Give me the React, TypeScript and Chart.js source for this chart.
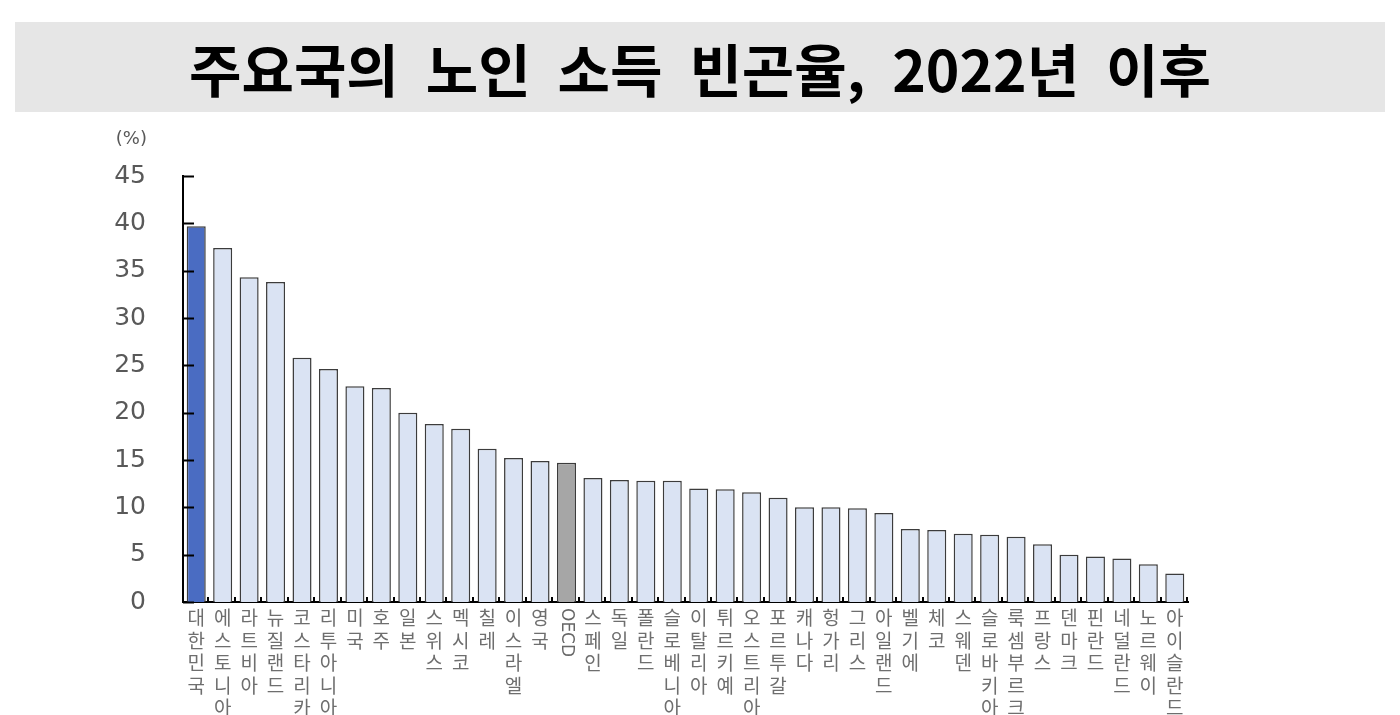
import { useEffect, useRef } from 'react';
import { Chart, registerables, Plugin } from 'chart.js';

Chart.register(...registerables);

const TITLE = '주요국의 노인 소득 빈곤율, 2022년 이후';
const UNIT = '(%)';

const countries = [
  '대한민국', '에스토니아', '라트비아', '뉴질랜드', '코스타리카', '리투아니아', '미국', '호주',
  '일본', '스위스', '멕시코', '칠레', '이스라엘', '영국', 'OECD', '스페인', '독일', '폴란드',
  '슬로베니아', '이탈리아', '튀르키예', '오스트리아', '포르투갈', '캐나다', '헝가리', '그리스',
  '아일랜드', '벨기에', '체코', '스웨덴', '슬로바키아', '룩셈부르크', '프랑스', '덴마크',
  '핀란드', '네덜란드', '노르웨이', '아이슬란드',
];

const povertyRate = [
  39.7, 37.4, 34.3, 33.8, 25.8, 24.6, 22.8, 22.6,
  20.0, 18.8, 18.3, 16.2, 15.2, 14.9, 14.7, 13.1, 12.9, 12.8,
  12.8, 12.0, 11.9, 11.6, 11.0, 10.0, 10.0, 9.9,
  9.4, 7.7, 7.6, 7.2, 7.1, 6.9, 6.1, 5.0,
  4.8, 4.6, 4.0, 3.0,
];

const yTicks = [0, 5, 10, 15, 20, 25, 30, 35, 40, 45];

const HIGHLIGHT = '대한민국';
const AVERAGE = 'OECD';

// inward tick marks, unit label and the rotated OECD label
const decorations: Plugin<'bar'> = {
  id: 'decorations',
  afterDatasetsDraw(chart) {
    const { ctx, chartArea } = chart;
    const x = chart.scales.x;
    const y = chart.scales.y;
    ctx.save();
    ctx.strokeStyle = '#000';
    ctx.lineWidth = 2;
    ctx.beginPath();
    yTicks.forEach((v) => {
      const py = Math.round(y.getPixelForValue(v)) + 0.5;
      ctx.moveTo(chartArea.left, py);
      ctx.lineTo(chartArea.left + 11, py);
    });
    const step = (chartArea.right - chartArea.left) / countries.length;
    for (let i = 1; i <= countries.length; i++) {
      const px = Math.round(chartArea.left + step * i) - 1;
      ctx.moveTo(px, chartArea.bottom);
      ctx.lineTo(px, chartArea.bottom - 5);
    }
    ctx.stroke();

    ctx.fillStyle = '#595959';
    ctx.font = '18px "DejaVu Sans"';
    ctx.textAlign = 'right';
    ctx.textBaseline = 'middle';
    ctx.fillText(UNIT, 147, 139);

    const oi = countries.indexOf(AVERAGE);
    if (oi >= 0) {
      const cx = x.getPixelForValue(oi);
      ctx.translate(cx, chartArea.bottom + 6);
      ctx.rotate(Math.PI / 2);
      ctx.fillStyle = '#666';
      ctx.font = '17px "DejaVu Sans"';
      ctx.textAlign = 'left';
      ctx.textBaseline = 'middle';
      ctx.fillText(AVERAGE, 0, 0);
    }
    ctx.restore();
  },
};

export default function App() {
  const canvasRef = useRef<HTMLCanvasElement>(null);
  const chartRef = useRef<Chart | null>(null);

  useEffect(() => {
    if (!canvasRef.current) return;
    if (chartRef.current) chartRef.current.destroy();

    const ctx = canvasRef.current.getContext('2d');
    if (!ctx) return;

    chartRef.current = new Chart(ctx, {
      type: 'bar',
      data: {
        labels: countries,
        datasets: [{
          data: povertyRate,
          backgroundColor: countries.map((c) =>
            c === HIGHLIGHT ? '#4a6cc2' : c === AVERAGE ? '#a6a6a6' : '#dae3f3'),
          borderColor: '#3c3c3c',
          borderWidth: 1.5,
          categoryPercentage: 1,
          barPercentage: 0.72,
        }],
      },
      options: {
        responsive: false,
        animation: false,
        layout: { padding: { top: 176, right: 212, left: 0, bottom: 0 } },
        plugins: {
          legend: { display: false },
          tooltip: { enabled: false },
        },
        scales: {
          x: {
            grid: { display: false, drawTicks: false },
            border: { display: true, color: '#000', width: 2 },
            afterFit: (s) => { s.height = 113; },
            ticks: {
              autoSkip: false,
              maxRotation: 0,
              minRotation: 0,
              padding: 5,
              color: '#6e6e6e',
              font: { family: '"Noto Sans CJK KR"', size: 19, lineHeight: 22.5 / 19 },
              callback: (_v, i) => (countries[i] === AVERAGE ? '' : Array.from(countries[i])),
            },
          },
          y: {
            min: 0,
            max: 45,
            grid: { display: false, drawTicks: false },
            border: { display: true, color: '#000', width: 2 },
            afterFit: (s) => { s.width = 183; },
            ticks: {
              stepSize: 5,
              padding: 37,
              color: '#595959',
              font: { family: '"DejaVu Sans"', size: 25 },
            },
          },
        },
      },
      plugins: [decorations],
    });

    return () => { chartRef.current?.destroy(); };
  }, []);

  return (
    <div style={{ position: 'fixed', left: 0, top: 0, width: 1400, height: 715, background: '#fff' }}>
      <canvas ref={canvasRef} width={1400} height={715} style={{ position: 'absolute', left: 0, top: 0 }} />
      <div
        style={{
          position: 'absolute', left: 15, top: 22, width: 1370, height: 90,
          background: '#e6e6e6', display: 'flex', alignItems: 'center', justifyContent: 'center',
          fontFamily: '"Noto Sans CJK KR"', fontWeight: 700, fontSize: 57, color: '#000',
          wordSpacing: 14, whiteSpace: 'nowrap',
        }}
      >
        {TITLE}
      </div>
    </div>
  );
}
